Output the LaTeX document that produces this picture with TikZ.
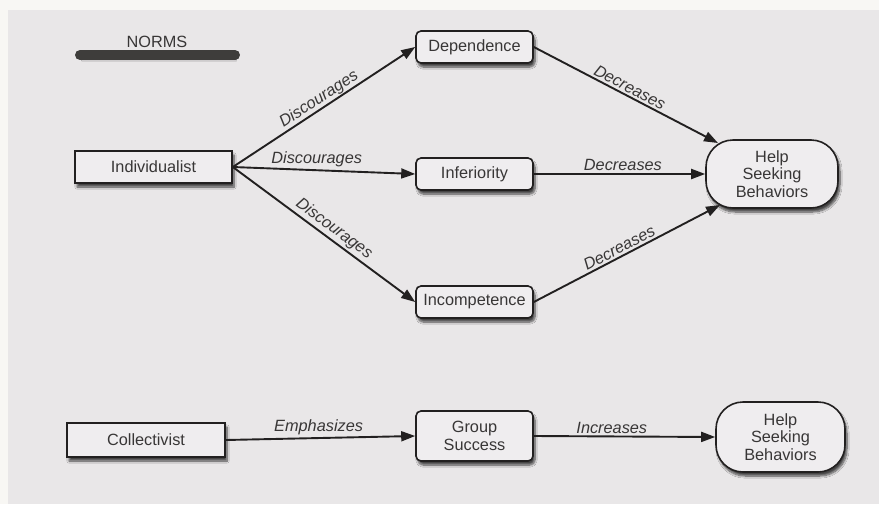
\documentclass[tikz,border=0pt]{standalone}
\usepackage{fontspec}
\setmainfont{Liberation Sans}
\usetikzlibrary{arrows.meta,calc,shadows.blur}
\definecolor{paper}{HTML}{E9E7E8}
\definecolor{margin}{HTML}{F8F7F4}
\definecolor{ink}{HTML}{222020}
\definecolor{boxfill}{HTML}{EFEDEF}
\definecolor{barfill}{HTML}{3E3D3B}

\begin{document}
\begin{tikzpicture}[x=1pt,y=-1pt,
  font=\fontsize{16.3}{17.5}\selectfont,
  every node/.style={text=ink!90},
  boxbase/.style={draw=ink, line width=1.6pt, fill=boxfill, inner sep=0pt, align=center,
    blur shadow={shadow xshift=2pt, shadow yshift=-4pt, shadow blur steps=8, shadow opacity=70}},
  sharpbox/.style={boxbase, minimum width=157pt, minimum height=32pt},
  roundbox/.style={boxbase, rounded corners=5pt, minimum width=117pt, minimum height=32pt},
  goalbox/.style={boxbase, rounded corners=27pt, minimum width=132pt, minimum height=68pt},
  link/.style={draw=ink, line width=1.9pt, -{Triangle[length=14pt,width=10pt]}},
  tag/.style={font=\itshape\fontsize{16.3}{17}\selectfont, inner sep=2pt}
]
% page and paper
\fill[margin] (0,0) rectangle (879,504);
\fill[paper] (8,10) rectangle (879,504);
\useasboundingbox (0,0) rectangle (879,504);

% heading with its bar
\node (norms) at (157,42) {NORMS};
\draw[barfill, line width=10pt, line cap=round,
  blur shadow={shadow xshift=1.5pt, shadow yshift=-4pt, shadow blur steps=8, shadow opacity=70}]
  (80,55) -- (235,55);

% individualist branch
\node[sharpbox] (ind) at (153.5,167) {Individualist};
\node[roundbox] (dep) at (474.5,47) {Dependence};
\node[roundbox] (inf) at (474.5,174) {Inferiority};
\node[roundbox] (inc) at (474.5,302) {Incompetence};
\node[goalbox] (help) at (772,174) {Help\\Seeking\\Behaviors};

\coordinate (hTop) at ($(help.center)+(-54,-31)$);
\coordinate (hBot) at ($(help.center)+(-52,31)$);

\draw[link] (ind.east) -- node[tag, inner sep=0.5pt, sloped, above] {Discourages} (dep.west);
\draw[link] (ind.east) -- node[tag, pos=0.46, above] {Discourages} (inf.west);
\draw[link] (ind.east) -- node[tag, pos=0.52, sloped, above] {Discourages} (inc.west);

\draw[link] (dep.east) -- node[tag, sloped, above] {Decreases} (hTop);
\draw[link] (inf.east) -- node[tag, pos=0.52, above] {Decreases} (help.west);
\draw[link] (inc.east) -- node[tag, pos=0.48, sloped, above] {Decreases} (hBot);

% collectivist branch
\node[sharpbox, minimum width=158pt, minimum height=34pt] (col) at (146,440) {Collectivist};
\node[roundbox, minimum height=50pt] (grp) at (474.5,436) {Group\\Success};
\node[goalbox, minimum width=129pt, minimum height=70pt] (help2) at (780.5,437) {Help\\Seeking\\Behaviors};

\draw[link] (col.east) -- node[tag, pos=0.49, above] {Emphasizes} (grp.west);
\draw[link] (grp.east) -- node[tag, pos=0.43, above] {Increases} (help2.west);
\end{tikzpicture}
\end{document}
